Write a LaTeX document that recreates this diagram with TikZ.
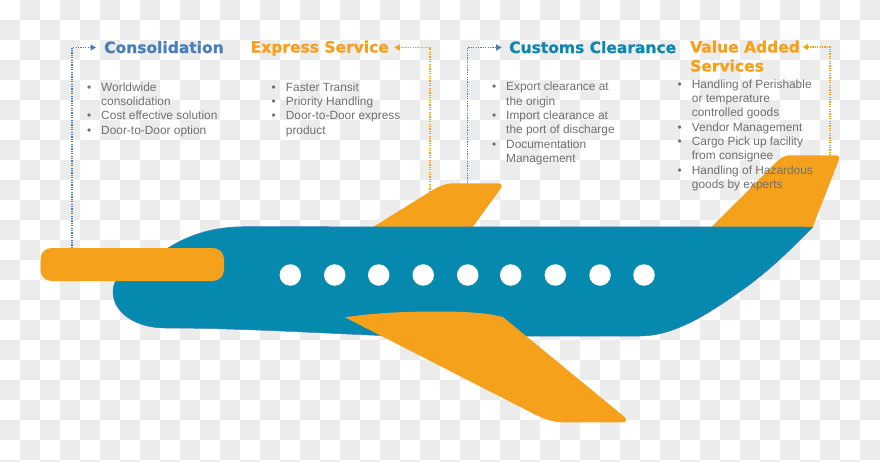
\documentclass[tikz,border=0pt]{standalone}
\usepackage{fontspec}
\setmainfont{Liberation Sans}
\newfontfamily\titlefont[BoldFeatures={FakeBold=1}]{DejaVu Sans}
\usetikzlibrary{arrows.meta}
\definecolor{planeblue}{HTML}{0589AF}
\definecolor{planeline}{HTML}{4A7EBB}
\definecolor{planeorange}{HTML}{F5A11C}
\definecolor{customsblue}{HTML}{0F87AE}
\definecolor{bodygray}{HTML}{707070}
\definecolor{checkgray}{HTML}{ECECEC}
\newcommand{\bitem}[1]{\makebox[0pt][r]{\textbullet\hspace{10pt}}#1}
\tikzset{
  title/.style={font=\titlefont\bfseries\fontsize{15.5}{19}\selectfont, inner sep=0pt, anchor=base west, align=left},
  body/.style={font=\fontsize{11.9}{14.3}\selectfont, text=bodygray, inner sep=0pt, anchor=north west, align=left},
  link/.style={line width=1.2pt, dash pattern=on 1.2pt off 1.2pt, -{Triangle[length=5.5pt,width=6pt]}},
  window/.style={circle, fill=white, minimum size=21.5pt, inner sep=0pt}
}
\begin{document}
\begin{tikzpicture}[x=1pt,y=-1pt]
\clip (0,0) rectangle (880,461);
\fill[white] (0,0) rectangle (880,461);
\foreach \i in {0,...,43} \foreach \j in {0,...,23} {
  \pgfmathparse{int(mod(\i+\j,2))}
  \ifnum\pgfmathresult=1 \fill[checkgray] (20*\i,20*\j) rectangle +(20,20); \fi
}
% fins behind fuselage
\fill[planeorange] (373,227) -- (430,191.7) .. controls (441,185) and (446,183.3) .. (454,183.3)
  -- (497,183.3) .. controls (501.5,183.3) and (502.5,185.5) .. (501,188) -- (472.7,227) -- cycle;
\fill[planeorange] (711.7,227) -- (776.7,161.7) .. controls (782,156.5) and (786,155.3) .. (792,155.3)
  -- (836,155.3) .. controls (839,155.3) and (840,157) .. (839.2,159) -- (812.7,227) -- cycle;
% fuselage
\filldraw[fill=planeblue, draw=planeline, line width=.5pt]
  (813,227) .. controls (790,250) and (770,270) .. (745,288)
  .. controls (710,313) and (675,336) .. (640,336)
  -- (450,336) -- (380,335.5) .. controls (300,332) and (230,328) .. (165,328)
  .. controls (135,328) and (113,312) .. (113,292)
  .. controls (113,268) and (145,258) .. (168,248)
  .. controls (190,234) and (215,226.7) .. (245,226.7) -- cycle;
% windows
\foreach \n/\x in {a/290.3,b/334.7,c/378.7,d/423.2,e/467.7,f/510.7,g/555.3,h/600,k/644}
  \node[window] (win\n) at (\x,275) {};
% wing
\fill[planeorange] (345,317.3) .. controls (380,312) and (415,311.5) .. (440,311.5)
  .. controls (465,311.5) and (490,313) .. (503.3,317.3)
  -- (624,416.5) .. controls (627,419) and (626.5,422.3) .. (623,422.3)
  -- (565,422.3) .. controls (553,422.3) and (547,420) .. (535,414.5) -- cycle;
% engine pod
\fill[planeorange] (51.5,248) -- (213,248) .. controls (219,248) and (224,253) .. (224,259)
  -- (224,270) .. controls (224,276) and (219,281) .. (213,281)
  -- (51.5,281) .. controls (45.5,281) and (40.5,276) .. (40.5,270)
  -- (40.5,259) .. controls (40.5,253) and (45.5,248) .. (51.5,248) -- cycle;
% titles
\node[title, text=planeline] (cons) at (104,53) {Consolidation};
\node[title, text=planeorange] (expr) at (250.5,52.5) {Express Service};
\node[title, text=customsblue] (cust) at (509,53) {Customs Clearance};
\node[title, text=planeorange, anchor=north west] (valu) at (690,40.5) {Value Added\\Services};
% connector ends
\coordinate (podtop) at (72,248);
\coordinate (fina) at (430,192);
\coordinate (finb) at (467.3,183.3);
\coordinate (finc) at (830,155.3);
\coordinate (consin) at (96,47.5);
\coordinate (exprin) at (394.3,47.5);
\coordinate (custin) at (501.7,47.5);
\coordinate (valuin) at (802.7,47);
\draw[link, planeline] (podtop) |- (consin);
\draw[link, planeorange] (fina) |- (exprin);
\draw[link, planeline] (finb) |- (custin);
\draw[link, planeorange] (finc) |- (valuin);
% bullet lists
\node[body] (lista) at (101,82.5) {\bitem{Worldwide}\\consolidation\\\bitem{Cost effective solution}\\\bitem{Door-to-Door option}};
\node[body] (listb) at (285.7,82.5) {\bitem{Faster Transit}\\\bitem{Priority Handling}\\\bitem{Door-to-Door express}\\product};
\node[body] (listc) at (506,82) {\bitem{Export clearance at}\\the origin\\\bitem{Import clearance at}\\the port of discharge\\\bitem{Documentation}\\Management};
\node[body] (listd) at (691.7,79.5) {\bitem{Handling of Perishable}\\or temperature\\controlled goods\\\bitem{Vendor Management}\\\bitem{Cargo Pick up facility}\\from consignee\\\bitem{Handling of Hazardous}\\goods by experts};
\end{tikzpicture}
\end{document}
